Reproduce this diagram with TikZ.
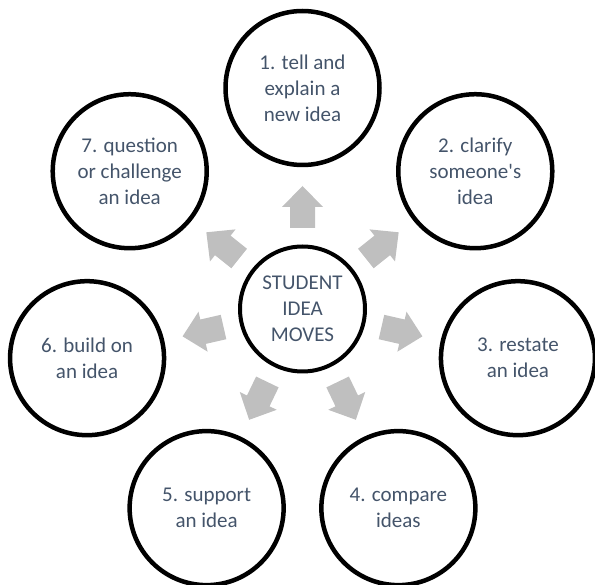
\documentclass[tikz,border=0pt]{standalone}
\usepackage{fontspec}
\setmainfont{Carlito}[Ligatures=TeXOff]
\definecolor{labeltext}{HTML}{44546A}
\definecolor{arrowgray}{HTML}{BFBFBF}
\begin{document}
\begin{tikzpicture}[x=1pt,y=1pt,
  idea/.style={circle, draw=black, line width=4.5pt, minimum size=154pt,
    inner sep=0pt, align=center, text=labeltext,
    font=\fontsize{21}{26}\selectfont},
  hub/.style={idea, minimum size=125pt, line width=4pt},
  movearrow/.style={fill=arrowgray}]
\useasboundingbox (0,0) rectangle (595,-585);
\coordinate (o) at (302.5,-309);

% central hub
\node[hub] (hub) at (o) {STUDENT\\IDEA\\MOVES};

% the seven moves, evenly spaced around the hub
\node[idea] (m1) at ([shift={(90:221)}]o)      {1. tell and\\explain a\\new idea};
\node[idea] (m2) at ([shift={(38.57:221)}]o)   {2. clarify\\someone's\\idea};
\node[idea] (m3) at ([shift={(-12.86:221)}]o)  {3. restate\\an idea};
\node[idea] (m4) at ([shift={(-64.29:221)}]o)  {4. compare\\ideas};
\node[idea] (m5) at ([shift={(-115.71:221)}]o) {5. support\\an idea};
\node[idea] (m6) at ([shift={(192.86:221)}]o)  {6. build on\\an idea};
\node[idea] (m7) at ([shift={(141.43:221)}]o)  {7. question\\or challenge\\an idea};

% block arrows pointing from the hub toward each move
\foreach \k in {0,...,6} {
  \pgfmathsetmacro\ang{90-\k*360/7}
  \fill[movearrow, shift={(o)}, rotate=\ang]
    (81,-12.5) -- (102,-12.5) -- (102,-20.5) -- (123,0)
    -- (102,20.5) -- (102,12.5) -- (81,12.5) -- cycle;
}
\end{tikzpicture}
\end{document}
